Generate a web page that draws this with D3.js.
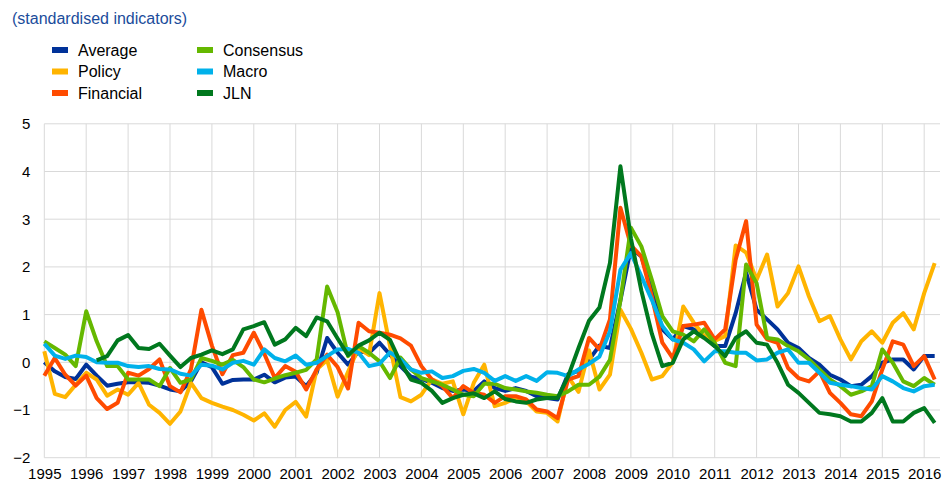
<!DOCTYPE html>
<html>
<head>
<meta charset="utf-8">
<script src="https://cdn.jsdelivr.net/npm/d3@7"></script>
<style>
  body { margin: 0; background: #fff; }
  svg { display: block; font-family: Arial, "Liberation Sans", sans-serif; }
</style>
</head>
<body>
<div id="chart"></div>
<script>
// quarterly data, 1995Q1 - 2016Q2
const startYear = 1995;
const years = [1995, 1996, 1997, 1998, 1999, 2000, 2001, 2002, 2003, 2004, 2005,
  2006, 2007, 2008, 2009, 2010, 2011, 2012, 2013, 2014, 2015, 2016];
const yTicks = [-2, -1, 0, 1, 2, 3, 4, 5];

const average = [0.0, -0.19, -0.31, -0.35, -0.05, -0.28, -0.49, -0.45, -0.42, -0.42,
  -0.43, -0.49, -0.57, -0.61, -0.4, 0.0, -0.1, -0.45, -0.37, -0.36,
  -0.36, -0.26, -0.42, -0.32, -0.3, -0.5, -0.22, 0.51, 0.2, -0.05,
  0.23, 0.2, 0.41, 0.16, -0.08, -0.3, -0.35, -0.43, -0.54, -0.6,
  -0.57, -0.6, -0.4, -0.54, -0.6, -0.54, -0.6, -0.71, -0.75, -0.78,
  -0.25, -0.18, 0.05, 0.35, 0.3, 1.3, 2.4, 2.22, 1.52, 0.69,
  0.48, 0.76, 0.69, 0.55, 0.34, 0.34, 1.03, 1.88, 1.1, 0.9,
  0.69, 0.41, 0.3, 0.09, -0.05, -0.26, -0.36, -0.5, -0.47, -0.29,
  -0.01, 0.06, 0.06, -0.15, 0.13, 0.13];

const policy = [0.23, -0.66, -0.73, -0.47, -0.22, -0.36, -0.7, -0.57, -0.68, -0.43,
  -0.89, -1.06, -1.29, -1.03, -0.43, -0.75, -0.85, -0.93, -1.0, -1.1,
  -1.22, -1.07, -1.35, -1.0, -0.83, -1.14, -0.15, 0.05, -0.72, -0.2,
  0.3, 0.15, 1.45, 0.34, -0.73, -0.82, -0.68, -0.36, -0.45, -0.4,
  -1.09, -0.43, -0.05, -0.92, -0.85, -0.75, -0.82, -1.03, -1.06, -1.24,
  -0.3, -0.62, 0.25, -0.57, -0.26, 1.1, 0.7, 0.2, -0.36, -0.29,
  0.0, 1.17, 0.83, 0.55, 0.45, 0.55, 2.45, 2.3, 1.73, 2.26,
  1.17, 1.45, 2.01, 1.38, 0.86, 0.97, 0.48, 0.06, 0.44, 0.65,
  0.41, 0.83, 1.03, 0.69, 1.45, 2.08];

const financial = [-0.28, 0.09, -0.26, -0.49, -0.28, -0.75, -0.98, -0.85, -0.22, -0.28,
  -0.14, 0.06, -0.5, -0.63, -0.15, 1.1, 0.35, -0.25, 0.15, 0.2,
  0.62, 0.18, -0.33, -0.08, -0.2, -0.57, -0.15, 0.16, -0.1, -0.55,
  0.83, 0.65, 0.62, 0.58, 0.5, 0.35, -0.08, -0.36, -0.5, -0.75,
  -0.5, -0.64, -0.68, -0.85, -0.71, -0.71, -0.78, -0.99, -1.03, -1.17,
  -0.36, -0.29, 0.51, 0.27, 0.9, 3.24, 2.45, 2.22, 1.38, 0.41,
  0.09, 0.76, 0.79, 0.83, 0.48, 0.69, 2.15, 2.96, 0.79, 0.48,
  0.41, -0.12, -0.33, -0.4, -0.19, -0.64, -0.85, -1.09, -1.13, -0.82,
  -0.15, 0.44, 0.37, -0.08, 0.13, -0.36];

const consensus = [0.44, 0.3, 0.16, -0.08, 1.07, 0.44, -0.08, -0.08, -0.36, -0.36,
  -0.36, -0.5, -0.12, -0.43, -0.36, 0.09, 0.03, -0.05, 0.05, -0.1,
  -0.36, -0.42, -0.34, -0.27, -0.22, -0.16, 0.06, 1.59, 1.05, 0.13,
  0.34, 0.2, 0.02, -0.33, 0.1, -0.15, -0.33, -0.4, -0.47, -0.57,
  -0.68, -0.71, -0.45, -0.45, -0.54, -0.57, -0.61, -0.64, -0.68, -0.71,
  -0.61, -0.47, -0.47, -0.3, 0.05, 1.3, 2.82, 2.43, 1.73, 0.97,
  0.65, 0.58, 0.44, 0.69, 0.41, -0.01, -0.08, 2.05, 1.66, 0.51,
  0.48, 0.34, 0.23, 0.06, -0.15, -0.36, -0.5, -0.68, -0.61, -0.5,
  0.27, -0.01, -0.4, -0.5, -0.33, -0.47];

const macro = [0.39, 0.14, 0.07, 0.14, 0.11, 0.0, -0.01, -0.01, -0.08, -0.1,
  -0.08, -0.14, -0.15, -0.24, -0.28, -0.05, -0.07, -0.15, -0.01, 0.03,
  -0.05, 0.27, 0.09, 0.02, 0.14, -0.05, -0.01, 0.13, 0.27, 0.28,
  0.2, -0.08, -0.03, 0.21, 0.06, -0.15, -0.22, -0.19, -0.33, -0.29,
  -0.18, -0.14, -0.22, -0.39, -0.29, -0.39, -0.29, -0.39, -0.21, -0.22,
  -0.29, -0.15, -0.03, 0.12, 0.65, 1.94, 2.29, 1.8, 1.31, 0.76,
  0.48, 0.41, 0.27, 0.02, 0.23, 0.23, 0.2, 0.2, 0.04, 0.06,
  0.2, 0.27, -0.01, -0.01, -0.22, -0.43, -0.47, -0.5, -0.54, -0.57,
  -0.29, -0.4, -0.54, -0.61, -0.5, -0.47];

const jln = [null, null, null, null, null, 0.04, 0.13, 0.46, 0.57, 0.3,
  0.28, 0.39, 0.14, -0.1, 0.09, 0.16, 0.25, 0.17, 0.27, 0.69,
  0.76, 0.84, 0.37, 0.48, 0.72, 0.55, 0.94, 0.86, 0.5, 0.15,
  0.35, 0.46, 0.62, 0.47, 0.0, -0.36, -0.43, -0.6, -0.85, -0.75,
  -0.68, -0.65, -0.75, -0.61, -0.77, -0.82, -0.85, -0.78, -0.75, -0.75,
  -0.3, 0.3, 0.87, 1.15, 2.08, 4.11, 2.6, 1.5, 0.6, -0.08,
  -0.01, 0.48, 0.65, 0.51, 0.34, 0.13, 0.51, 0.65, 0.41, 0.37,
  -0.01, -0.47, -0.64, -0.85, -1.06, -1.09, -1.13, -1.24, -1.24, -1.06,
  -0.75, -1.24, -1.24, -1.06, -0.96, -1.27];

const seriesNames = ["Average", "Policy", "Financial", "Consensus", "Macro", "JLN"];
const seriesValues = [average, policy, financial, consensus, macro, jln];
const colors = ["#003299", "#FFB400", "#FF4B00", "#65B800", "#00B1EA", "#00781E"];

const width = 944, height = 483;
const plotLeft = 44.3, plotRight = 940, plotTop = 123.8, plotBottom = 457.7;

const svg = d3.select("#chart").append("svg")
  .attr("width", width)
  .attr("height", height);

const x = d3.scaleLinear()
  .domain([years[0], years[years.length - 1]])
  .range([plotLeft, 924.2]);

const y = d3.scaleLinear()
  .domain([-2, 5])
  .range([plotBottom, plotTop]);

// subtitle
svg.append("text")
  .attr("x", 12)
  .attr("y", 24)
  .attr("fill", "#1B4C9B")
  .attr("font-size", 16)
  .text("(standardised indicators)");

// grid
const grid = svg.append("g").attr("stroke", "#d9d9d9").attr("stroke-width", 1);
grid.selectAll("line.h")
  .data(yTicks)
  .join("line")
  .attr("x1", plotLeft).attr("x2", plotRight)
  .attr("y1", d => y(d)).attr("y2", d => y(d));
grid.selectAll("line.v")
  .data(years)
  .join("line")
  .attr("x1", d => x(d)).attr("x2", d => x(d))
  .attr("y1", plotTop).attr("y2", plotBottom);

// axes labels
const yAxis = d3.axisLeft(y).tickValues(yTicks).tickFormat(d3.format("d"))
  .tickSize(0).tickPadding(14);
svg.append("g")
  .attr("transform", `translate(${plotLeft},0)`)
  .call(yAxis)
  .call(g => g.select(".domain").remove())
  .call(g => g.selectAll("text").attr("font-size", 15).attr("fill", "#000")
    .attr("font-family", "Arial, 'Liberation Sans', sans-serif"));

const xAxis = d3.axisBottom(x).tickValues(years).tickFormat(d3.format("d")).tickSize(0).tickPadding(11);
svg.append("g")
  .attr("transform", `translate(0,${plotBottom})`)
  .call(xAxis)
  .call(g => g.select(".domain").remove())
  .call(g => g.selectAll("text").attr("font-size", 15).attr("fill", "#000")
    .attr("font-family", "Arial, 'Liberation Sans', sans-serif"));

// lines
const line = d3.line()
  .defined(d => d.v !== null)
  .x(d => x(startYear + d.i / 4))
  .y(d => y(d.v));

svg.append("g")
  .selectAll("path")
  .data(seriesValues.map((vals, k) => ({ k, pts: vals.map((v, i) => ({ i, v })) })))
  .join("path")
  .attr("fill", "none")
  .attr("stroke", d => colors[d.k])
  .attr("stroke-width", 4)
  .attr("stroke-linejoin", "round")
  .attr("d", d => line(d.pts));

// legend
const legend = svg.append("g");
const legendItems = legend.selectAll("g")
  .data(seriesNames)
  .join("g")
  .attr("transform", (d, i) => `translate(${i < 3 ? 52 : 197},${50 + (i % 3) * 21.5})`);
legendItems.append("rect")
  .attr("x", 0).attr("y", -3)
  .attr("width", 16).attr("height", 6)
  .attr("fill", (d, i) => colors[i]);
legendItems.append("text")
  .attr("x", 26).attr("y", 0)
  .attr("dy", "0.36em")
  .attr("font-size", 16)
  .attr("fill", "#000")
  .text(d => d);
</script>
</body>
</html>
